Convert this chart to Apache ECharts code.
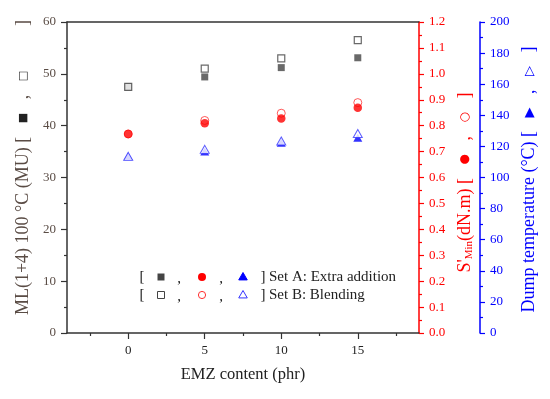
<!DOCTYPE html>
<html>
<head>
<meta charset="utf-8">
<script src="https://cdn.jsdelivr.net/npm/echarts@6/dist/echarts.min.js"></script>
<style>html,body{margin:0;padding:0;background:#fff}#c{width:550px;height:399px}</style>
</head>
<body>
<div id="c"></div>
<script>
var emz = [0, 5, 10, 15];
var mlA = [47.5, 49.4, 51.2, 53.1];
var mlB = [47.5, 51.0, 53.0, 56.5];
var sminA = [0.768, 0.809, 0.828, 0.869];
var sminB = [0.768, 0.820, 0.848, 0.889];
var dumpA = [113.6, 116.7, 122.3, 125.5];
var dumpB = [113.6, 118.1, 123.5, 128.3];
var xMajorTicks = [0, 5, 10, 15];
var xMinorTicks = [-2.5, 2.5, 7.5, 12.5, 17.5];

function pts(xs, ys) { return xs.map(function (x, i) { return [x, ys[i]]; }); }

var FONT = '"Liberation Serif", "Times New Roman", serif';
var GRAYTXT = '#5a4c45';
var chart = echarts.init(document.getElementById('c'), null, {renderer: 'canvas'});

var legendY1 = 277, legendY2 = 295;
function txt(x, y, s, align) {
  return {type: 'text', x: x, y: y, style: {text: s, font: '15px ' + FONT, fill: '#222', align: align || 'center', verticalAlign: 'middle'}};
}
function tri(cx, cy, r, fill, stroke) {
  return {type: 'polygon', shape: {points: [[cx, cy - r], [cx + r * 0.95, cy + r * 0.65], [cx - r * 0.95, cy + r * 0.65]]}, style: {fill: fill, stroke: stroke, lineWidth: 1}};
}
var graphics = [
  txt(142, legendY1, '['), txt(179, legendY1 + 2, ','), txt(221, legendY1 + 2, ','), txt(263, legendY1, ']'),
  {type: 'rect', shape: {x: 157.5, y: legendY1 - 3.5, width: 7, height: 7}, style: {fill: '#444'}},
  {type: 'circle', shape: {cx: 202, cy: legendY1, r: 4}, style: {fill: '#ff0000'}},
  tri(243, legendY1, 4.5, '#0000ff', '#0000ff'),
  txt(269, legendY1, 'Set A: Extra addition', 'left'),
  txt(142, legendY2, '['), txt(179, legendY2 + 2, ','), txt(221, legendY2 + 2, ','), txt(263, legendY2, ']'),
  {type: 'rect', shape: {x: 157.5, y: legendY2 - 3.5, width: 7, height: 7}, style: {fill: '#fff', stroke: '#444', lineWidth: 1}},
  {type: 'circle', shape: {cx: 202, cy: legendY2, r: 3.6}, style: {fill: '#fff', stroke: '#ff3030', lineWidth: 1}},
  tri(243, legendY2, 4.5, '#fff', '#3333ff'),
  txt(269, legendY2, 'Set B: Blending', 'left')
];

var SP = '   ';
var SPL = '          ';
var option = {
  animation: false,
  backgroundColor: '#fff',
  grid: {left: 67, right: 131, top: 22, bottom: 66, containLabel: false},
  xAxis: [
    {type: 'value', min: -4, max: 19, position: 'bottom',
     name: 'EMZ content (phr)', nameLocation: 'middle', nameGap: 33,
     nameTextStyle: {fontFamily: FONT, fontSize: 16.5, color: '#222'},
     axisLine: {show: true, onZero: false, lineStyle: {color: '#333', width: 1.5}},
     axisTick: {show: true, inside: false, length: 6, customValues: xMajorTicks, lineStyle: {color: '#333', width: 1.2}},
     axisLabel: {show: true, customValues: xMajorTicks, margin: 11, fontFamily: FONT, fontSize: 13, color: '#222'},
     splitLine: {show: false}},
    {type: 'value', min: -4, max: 19, position: 'bottom',
     axisLine: {show: false},
     axisTick: {show: true, length: 3, customValues: xMinorTicks, lineStyle: {color: '#333', width: 1.2}},
     axisLabel: {show: false}, splitLine: {show: false}},
    {type: 'value', min: -4, max: 19, position: 'top',
     axisLine: {show: true, onZero: false, lineStyle: {color: '#333', width: 1.5}},
     axisTick: {show: false}, axisLabel: {show: false}, splitLine: {show: false}}
  ],
  yAxis: [
    {type: 'value', min: 0, max: 60, interval: 10, position: 'left',
     name: 'ML(1+4) 100 °C (MU) [' + SP + '{s|■}' + SP + ',' + SP + '{s|□}' + SPL + ']', nameLocation: 'middle', nameGap: 21, nameRotate: 90,
     nameTextStyle: {fontFamily: FONT, fontSize: 18, color: GRAYTXT, padding: [0, 0, 0, 20],
       rich: {s: {fontFamily: 'DejaVu Sans', fontSize: 11, color: '#222'}}},
     axisLine: {show: true, onZero: false, lineStyle: {color: '#333', width: 1.5}},
     axisTick: {show: true, length: 6, lineStyle: {color: '#333', width: 1.2}},
     minorTick: {show: true, splitNumber: 2, length: 3, lineStyle: {color: '#333', width: 1.2}},
     axisLabel: {margin: 11, fontFamily: FONT, fontSize: 13, color: GRAYTXT},
     splitLine: {show: false}},
    {type: 'value', min: 0, max: 1.2, interval: 0.1, position: 'right',
     name: "S'{sub|Min}(dN.m) [" + SP + '{s|●}' + SP + ',' + SP + '{s|○}' + SP + ']', nameLocation: 'middle', nameGap: 33, nameRotate: 90,
     nameTextStyle: {fontFamily: FONT, fontSize: 18, color: '#ff0000', padding: [0, 10, 0, 0],
       rich: {sub: {fontFamily: FONT, fontSize: 11, color: '#ff0000', verticalAlign: 'bottom', padding: [7, 0, 0, 0]},
              s: {fontFamily: 'DejaVu Sans', fontSize: 12, color: '#ff0000'}}},
     axisLine: {show: true, onZero: false, lineStyle: {color: '#ff0000', width: 1.5}},
     axisTick: {show: true, length: 5, lineStyle: {color: '#ff0000', width: 1.2}},
     minorTick: {show: true, splitNumber: 2, length: 3, lineStyle: {color: '#ff0000', width: 1.2}},
     axisLabel: {margin: 10, fontFamily: FONT, fontSize: 13, color: '#ff0000', formatter: function (v) { return v.toFixed(1); }},
     splitLine: {show: false}},
    {type: 'value', min: 0, max: 200, interval: 20, position: 'right', offset: 61,
     name: 'Dump temperature (°C) [' + SP + '{s|▶}' + SP + ',' + SP + '{s|▷}' + SP + ']', nameLocation: 'middle', nameGap: 38, nameRotate: 90,
     nameTextStyle: {fontFamily: FONT, fontSize: 18, color: '#0000ff', padding: [0, 4, 0, 0],
       rich: {s: {fontFamily: 'DejaVu Sans', fontSize: 13, color: '#0000ff'}}},
     axisLine: {show: true, onZero: false, lineStyle: {color: '#0000ff', width: 1.5}},
     axisTick: {show: true, length: 5, lineStyle: {color: '#0000ff', width: 1.2}},
     minorTick: {show: true, splitNumber: 2, length: 3, lineStyle: {color: '#0000ff', width: 1.2}},
     axisLabel: {margin: 10, fontFamily: FONT, fontSize: 13, color: '#0000ff'},
     splitLine: {show: false}}
  ],
  series: [
    {type: 'scatter', name: 'ML A', xAxisIndex: 0, yAxisIndex: 0, data: pts(emz, mlA), symbol: 'rect', symbolSize: 7,
     itemStyle: {color: '#444'}},
    {type: 'scatter', name: 'ML B', xAxisIndex: 0, yAxisIndex: 0, data: pts(emz, mlB), symbol: 'rect', symbolSize: 7,
     itemStyle: {color: '#fff', borderColor: '#444', borderWidth: 1.2}},
    {type: 'scatter', name: 'S B', xAxisIndex: 0, yAxisIndex: 1, data: pts(emz, sminB), symbol: 'circle', symbolSize: 8,
     itemStyle: {color: '#fff', borderColor: '#ff3030', borderWidth: 1}},
    {type: 'scatter', name: 'S A', xAxisIndex: 0, yAxisIndex: 1, data: pts(emz, sminA), symbol: 'circle', symbolSize: 8.5,
     itemStyle: {color: '#ff0000'}},
    {type: 'scatter', name: 'T A', xAxisIndex: 0, yAxisIndex: 2, data: pts(emz, dumpA), symbol: 'triangle', symbolSize: [9, 8],
     itemStyle: {color: '#0000ff'}},
    {type: 'scatter', name: 'T B', xAxisIndex: 0, yAxisIndex: 2, data: pts(emz, dumpB), symbol: 'triangle', symbolSize: [9, 8],
     itemStyle: {color: '#fff', borderColor: '#3333ff', borderWidth: 1}}
  ],
  graphic: graphics
};
chart.setOption(option);
</script>
</body>
</html>
